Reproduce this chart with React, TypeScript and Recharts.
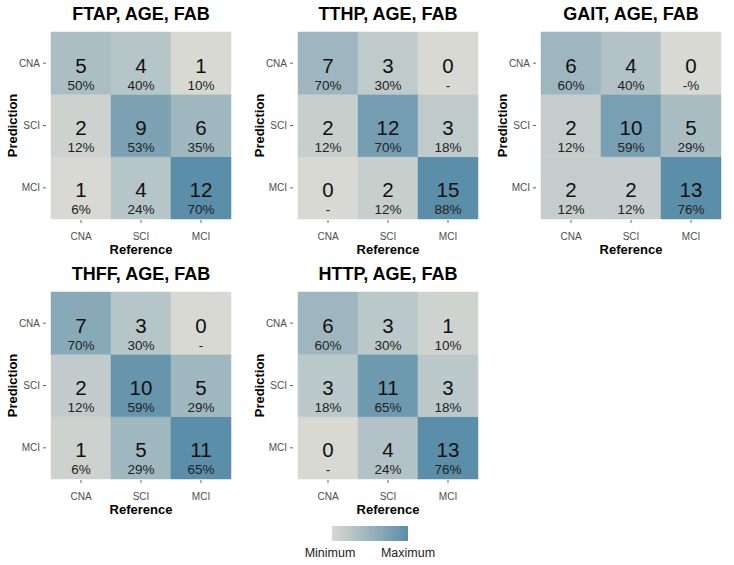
import React from "react";
import { BarChart, Bar, XAxis, YAxis, Cell, LabelList } from "recharts";

// Categories
const REFERENCE = ["CNA", "SCI", "MCI"];
const PREDICTION = ["CNA", "SCI", "MCI"];

// Panel titles
const TITLES = [
  "FTAP, AGE, FAB",
  "TTHP, AGE, FAB",
  "GAIT, AGE, FAB",
  "THFF, AGE, FAB",
  "HTTP, AGE, FAB",
];

// Counts: rows = prediction (CNA, SCI, MCI), columns = reference (CNA, SCI, MCI)
const FTAP_COUNTS = [[5, 4, 1], [2, 9, 6], [1, 4, 12]];
const TTHP_COUNTS = [[7, 3, 0], [2, 12, 3], [0, 2, 15]];
const GAIT_COUNTS = [[6, 4, 0], [2, 10, 5], [2, 2, 13]];
const THFF_COUNTS = [[7, 3, 0], [2, 10, 5], [1, 5, 11]];
const HTTP_COUNTS = [[6, 3, 1], [3, 11, 3], [0, 4, 13]];

// Percentage labels as printed
const FTAP_PCT = [["50%", "40%", "10%"], ["12%", "53%", "35%"], ["6%", "24%", "70%"]];
const TTHP_PCT = [["70%", "30%", "-"], ["12%", "70%", "18%"], ["-", "12%", "88%"]];
const GAIT_PCT = [["60%", "40%", "-%"], ["12%", "59%", "29%"], ["12%", "12%", "76%"]];
const THFF_PCT = [["70%", "30%", "-"], ["12%", "59%", "29%"], ["6%", "29%", "65%"]];
const HTTP_PCT = [["60%", "30%", "10%"], ["18%", "65%", "18%"], ["-", "24%", "76%"]];

const LEGEND_LABELS = ["Minimum", "Maximum"];

const LOW = [216, 217, 211];
const HIGH = [91, 142, 168];
const FONT = "'Liberation Sans', Arial, sans-serif";

function colorFor(v: number, min: number, max: number) {
  const t = max === min ? 0 : (v - min) / (max - min);
  const c = LOW.map((l, i) => Math.round(l + (HIGH[i] - l) * t));
  return `rgb(${c[0]},${c[1]},${c[2]})`;
}

const YTick = (props: any) => {
  const { x, y, payload } = props;
  const idx = Math.round(2.5 - payload.value);
  return (
    <g>
      <text x={x - 11} y={y} textAnchor="end" dominantBaseline="central" fontSize={10} fill="#4d4d4d" fontFamily={FONT}>
        {PREDICTION[idx]}
      </text>
      <line x1={x - 8} x2={x - 5} y1={y} y2={y} stroke="#666" strokeWidth={1} />
    </g>
  );
};

const XTick = (props: any) => {
  const { x, y, payload } = props;
  return (
    <g>
      <line x1={x} x2={x} y1={y + 1} y2={y + 4} stroke="#666" strokeWidth={1} />
      <text x={x} y={y + 17} textAnchor="middle" dominantBaseline="central" fontSize={10} fill="#4d4d4d" fontFamily={FONT}>
        {payload.value}
      </text>
    </g>
  );
};

function Panel({ title, counts, pcts, left, top }: any) {
  const flat = counts.flat();
  const min = Math.min(...flat);
  const max = Math.max(...flat);
  const data = REFERENCE.map((r) => {
    const row: any = { refCat: r };
    PREDICTION.forEach((p) => (row[p] = 1));
    return row;
  });
  // stack bottom to top: MCI, SCI, CNA
  const order = [2, 1, 0];
  return (
    <div style={{ position: "absolute", left, top, width: 245, height: 260 }}>
      <div
        style={{
          position: "absolute",
          left: 52,
          width: 180,
          top: 3,
          textAlign: "center",
          fontFamily: FONT,
          fontWeight: "bold",
          fontSize: 18,
          lineHeight: "22px",
          color: "#000",
          whiteSpace: "nowrap",
        }}
      >
        {title}
      </div>
      <BarChart
        width={245}
        height={260}
        data={data}
        margin={{ top: 32, right: 13, bottom: 0, left: 0 }}
        barCategoryGap={0}
        barGap={0}
      >
        <XAxis
          dataKey="refCat"
          type="category"
          height={41}
          tickSize={0}
          tickMargin={0}
          axisLine={false}
          tickLine={false}
          tick={<XTick />}
          label={{
            content: (p: any) => {
              const vb = p.viewBox || {};
              return (
                <text
                  x={vb.x + vb.width / 2}
                  y={vb.y + 30}
                  textAnchor="middle"
                  dominantBaseline="central"
                  fontSize={13}
                  fontWeight="bold"
                  fontFamily={FONT}
                  fill="#000"
                >
                  Reference
                </text>
              );
            },
          }}
        />
        <YAxis
          type="number"
          domain={[0, 3]}
          ticks={[0.5, 1.5, 2.5]}
          width={52}
          tickSize={0}
          tickMargin={0}
          axisLine={false}
          tickLine={false}
          tick={<YTick />}
          label={{
            content: (p: any) => {
              const vb = p.viewBox || {};
              const cx = vb.x + 13;
              const cy = vb.y + vb.height / 2;
              return (
                <text
                  x={cx}
                  y={cy}
                  transform={`rotate(-90 ${cx} ${cy})`}
                  textAnchor="middle"
                  dominantBaseline="central"
                  fontSize={13}
                  fontWeight="bold"
                  fontFamily={FONT}
                  fill="#000"
                >
                  Prediction
                </text>
              );
            },
          }}
        />
        {order.map((pi) => (
          <Bar key={PREDICTION[pi]} dataKey={PREDICTION[pi]} stackId="a" isAnimationActive={false}>
            {REFERENCE.map((r, j) => (
              <Cell key={r} fill={colorFor(counts[pi][j], min, max)} stroke={colorFor(counts[pi][j], min, max)} strokeWidth={0.5} />
            ))}
            <LabelList
              dataKey={PREDICTION[pi]}
              content={(lp: any) => {
                const { x, y, width, height, index } = lp;
                const cx = Number(x) + Number(width) / 2;
                const cy = Number(y) + Number(height) / 2;
                return (
                  <g>
                    <text x={cx} y={cy + 2} textAnchor="middle" dominantBaseline="central" fontSize={20.5} fontFamily={FONT} fill="#111">
                      {counts[pi][index]}
                    </text>
                    <text x={cx} y={cy + 22} textAnchor="middle" dominantBaseline="central" fontSize={13.5} fontFamily={FONT} fill="#222">
                      {pcts[pi][index]}
                    </text>
                  </g>
                );
              }}
            />
          </Bar>
        ))}
      </BarChart>
    </div>
  );
}

export default function App() {
  const panels = [
    { counts: FTAP_COUNTS, pcts: FTAP_PCT, left: -1, top: 0 },
    { counts: TTHP_COUNTS, pcts: TTHP_PCT, left: 246, top: 0 },
    { counts: GAIT_COUNTS, pcts: GAIT_PCT, left: 489, top: 0 },
    { counts: THFF_COUNTS, pcts: THFF_PCT, left: -1, top: 260 },
    { counts: HTTP_COUNTS, pcts: HTTP_PCT, left: 246, top: 260 },
  ];
  return (
    <div style={{ position: "absolute", left: 0, top: 0, width: 734, height: 565, background: "#fff", overflow: "hidden" }}>
      {panels.map((p, i) => (
        <Panel key={TITLES[i]} title={TITLES[i]} {...p} />
      ))}
      <svg style={{ position: "absolute", left: 0, top: 0, pointerEvents: "none" }} width={734} height={565}>
        <defs>
          <linearGradient id="legGrad" x1="0" x2="1" y1="0" y2="0">
            <stop offset="0%" stopColor={`rgb(${LOW.join(",")})`} />
            <stop offset="100%" stopColor={`rgb(${HIGH.join(",")})`} />
          </linearGradient>
        </defs>
        <rect x={332} y={526} width={76} height={15} fill="url(#legGrad)" />
        <text x={330} y={553} textAnchor="middle" dominantBaseline="central" fontSize={12.5} fontFamily={FONT} fill="#222">
          {LEGEND_LABELS[0]}
        </text>
        <text x={408} y={553} textAnchor="middle" dominantBaseline="central" fontSize={12.5} fontFamily={FONT} fill="#222">
          {LEGEND_LABELS[1]}
        </text>
      </svg>
    </div>
  );
}
